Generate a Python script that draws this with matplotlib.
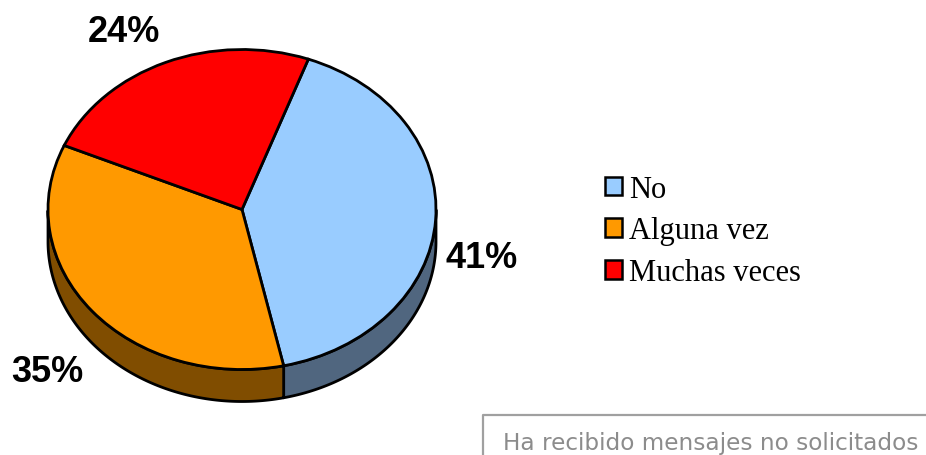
import numpy as np
import matplotlib
matplotlib.use('Agg')
import matplotlib.pyplot as plt
from matplotlib.patches import Patch, Polygon

W, H = 926, 456

categories = ['No', 'Alguna vez', 'Muchas veces']
values = [41, 35, 24]
pct_labels = ['41%', '35%', '24%']
top_colors = ['#99CCFF', '#FF9900', '#FF0000']
side_colors = ['#50667F', '#804D00', '#804D00']
note = 'Ha recibido mensajes no solicitados'

# geometria del pastel en pixeles
cx, cy = 242, 210.5
rx, ry = 194, 160
depth = 32 / ry
start = 70.0

fig = plt.figure(figsize=(W / 100, H / 100), dpi=100, facecolor='white')
ax = fig.add_axes([0, 0, 1, 1])

# pared lateral: solo la parte delantera de cada sector
a0 = start
for val, col in zip(values, side_colors):
    a1 = a0 - val * 3.6
    th = np.radians(np.linspace(a0, a1, 300))
    th = th[np.sin(th) <= 0]
    if len(th) > 1:
        xs = np.cos(th)
        ys = np.sin(th)
        pts = np.r_[np.c_[xs, ys], np.c_[xs[::-1], ys[::-1] - depth]]
        ax.add_patch(Polygon(pts, closed=True, facecolor=col, edgecolor='black',
                             linewidth=2.0, joinstyle='round', zorder=1))
    a0 = a1

# tapa superior
ax.pie(values, colors=top_colors, startangle=start, counterclock=False, radius=1,
       wedgeprops=dict(edgecolor='black', linewidth=2.0, zorder=2))

ax.set_aspect('auto')
ax.set_xlim(-cx / rx, (W - cx) / rx)
ax.set_ylim(-(H - cy) / ry, cy / ry)
ax.axis('off')

# etiquetas de porcentaje
label_pos = [(482, 259), (47, 373), (124, 32)]
for txt, (px, py) in zip(pct_labels, label_pos):
    fig.text(px / W, 1 - py / H, txt, fontsize=26, fontweight='bold',
             family='Liberation Sans', ha='center', va='center', color='black')

# leyenda
handles = [Patch(facecolor=c, edgecolor='black', linewidth=1.8) for c in top_colors]
fig.legend(handles, categories, loc='center left', bbox_to_anchor=(605 / W, 1 - 232 / H),
           frameon=False, prop=dict(family='Liberation Serif', size=22),
           handlelength=0.55, handleheight=0.55, handletextpad=0.25,
           labelspacing=0.42, borderpad=0, borderaxespad=0)

# recuadro de la nota
fig.add_artist(plt.Line2D([483 / W, 483 / W, 1], [0, 1 - 416 / H, 1 - 416 / H],
                          color='#A0A0A0', linewidth=1.6))
fig.text(503 / W, 1 - 444 / H, note, fontsize=16.7, family='DejaVu Sans', color='#8C8C8C',
         ha='left', va='center')

fig.savefig('out.png', dpi=100)
